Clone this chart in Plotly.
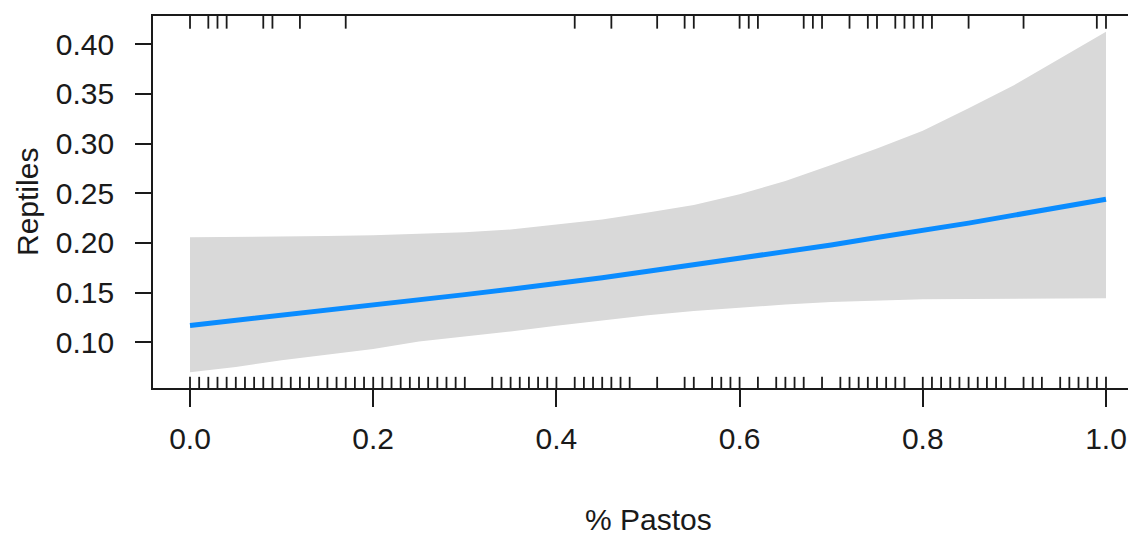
import plotly.graph_objects as go

# ---- data ----
x_grid = [0.00, 0.05, 0.10, 0.15, 0.20, 0.25, 0.30, 0.35, 0.40, 0.45, 0.50,
          0.55, 0.60, 0.65, 0.70, 0.75, 0.80, 0.85, 0.90, 0.95, 1.00]
fit = [0.117, 0.122, 0.127, 0.132, 0.137, 0.1425, 0.148, 0.1535, 0.159, 0.165, 0.1715,
       0.178, 0.1845, 0.191, 0.198, 0.2055, 0.2125, 0.220, 0.228, 0.236, 0.244]
upper = [0.2057, 0.2060, 0.2065, 0.2070, 0.2077, 0.2090, 0.2107, 0.2136, 0.2186, 0.2236, 0.2307,
         0.2382, 0.2490, 0.2624, 0.2785, 0.2951, 0.3130, 0.3356, 0.3591, 0.3863, 0.4127]
lower = [0.0698, 0.0751, 0.0820, 0.0877, 0.0933, 0.1008, 0.1058, 0.1109, 0.1166, 0.1219, 0.1272,
         0.1315, 0.1350, 0.1381, 0.1406, 0.1421, 0.1433, 0.1436, 0.1439, 0.1441, 0.1443]

rug_bottom = [0.00, 0.01, 0.02, 0.03, 0.04, 0.05, 0.06, 0.07, 0.08, 0.09, 0.10, 0.11, 0.12,
              0.13, 0.14, 0.15, 0.16, 0.17, 0.18, 0.19, 0.20, 0.21, 0.22, 0.23, 0.24, 0.25,
              0.26, 0.27, 0.28, 0.29, 0.30, 0.33, 0.34, 0.35, 0.36, 0.37, 0.38, 0.39, 0.40,
              0.42, 0.43, 0.44, 0.45, 0.46, 0.47, 0.48, 0.51, 0.54, 0.55, 0.57, 0.58, 0.59,
              0.60, 0.62, 0.64, 0.65, 0.66, 0.67, 0.69, 0.71, 0.72, 0.73, 0.74, 0.75, 0.76,
              0.77, 0.78, 0.80, 0.81, 0.82, 0.83, 0.84, 0.85, 0.86, 0.87, 0.88, 0.89, 0.91,
              0.92, 0.93, 0.95, 0.96, 0.97, 0.98, 0.99, 1.00]
rug_top = [0.00, 0.02, 0.03, 0.04, 0.08, 0.09, 0.12, 0.17, 0.42, 0.46, 0.51, 0.54, 0.55,
           0.60, 0.61, 0.62, 0.67, 0.68, 0.69, 0.72, 0.74, 0.75, 0.77, 0.78, 0.79, 0.80,
           0.81, 0.85, 0.91, 0.99, 1.00]

x_ticks = [0.0, 0.2, 0.4, 0.6, 0.8, 1.0]
x_tick_labels = ["0.0", "0.2", "0.4", "0.6", "0.8", "1.0"]
y_ticks = [0.10, 0.15, 0.20, 0.25, 0.30, 0.35, 0.40]
y_tick_labels = ["0.10", "0.15", "0.20", "0.25", "0.30", "0.35", "0.40"]

x_title = "% Pastos"
y_title = "Reptiles"

# ---- styling ----
FONT = "Liberation Sans, Arial, sans-serif"
TXT = "#1a1a1a"
FS = 30
AX = "#1a1a1a"

fig = go.Figure()

# confidence band
fig.add_trace(go.Scatter(x=x_grid, y=lower, mode="lines", line=dict(width=0, color="#D9D9D9"),
                         showlegend=False, hoverinfo="skip"))
fig.add_trace(go.Scatter(x=x_grid, y=upper, mode="lines", line=dict(width=0, color="#D9D9D9"),
                         fill="tonexty", fillcolor="#D9D9D9", showlegend=False, hoverinfo="skip"))
# fitted line
fig.add_trace(go.Scatter(x=x_grid, y=fit, mode="lines", line=dict(width=5, color="#0A8CFF"),
                         showlegend=False))


def rug_xy(vals, y0, y1):
    xs, ys = [], []
    for v in vals:
        xs += [v, v, None]
        ys += [y0, y1, None]
    return xs, ys


bx, by = rug_xy(rug_bottom, 0.0, 0.03)
tx, ty = rug_xy(rug_top, 1.0, 0.966)
fig.add_trace(go.Scatter(x=bx, y=by, yaxis="y2", mode="lines", line=dict(width=1.8, color=AX),
                         showlegend=False, hoverinfo="skip"))
fig.add_trace(go.Scatter(x=tx, y=ty, yaxis="y2", mode="lines", line=dict(width=1.8, color=AX),
                         showlegend=False, hoverinfo="skip"))

# the page body adds an 8px offset, so the figure is laid out 8px up/left
fig.update_layout(
    width=1136, height=536,
    margin=dict(l=145, r=0, t=8, b=156, autoexpand=False),
    paper_bgcolor="white", plot_bgcolor="white",
    font=dict(family=FONT, size=FS, color=TXT),
    xaxis=dict(range=[-0.0404, 1.0415], tickvals=x_ticks, ticktext=x_tick_labels,
               automargin=False,
               showgrid=False, zeroline=False, showline=True, linecolor=AX, linewidth=1.8,
               mirror=True, ticks="outside", ticklen=17, tickwidth=1.8, tickcolor=AX,
               ticklabelstandoff=6, tickfont=dict(size=FS, color=TXT, family=FONT)),
    yaxis=dict(range=[0.054, 0.4285], tickvals=y_ticks, ticktext=y_tick_labels,
               automargin=False,
               showgrid=False, zeroline=False, showline=True, linecolor=AX, linewidth=1.8,
               mirror=False, ticks="outside", ticklen=16, tickwidth=1.8, tickcolor=AX,
               ticklabelstandoff=15, tickfont=dict(size=FS, color=TXT, family=FONT)),
    yaxis2=dict(range=[0, 1], overlaying="y", visible=False, fixedrange=True),
    annotations=[
        dict(text=x_title, xref="paper", yref="paper", x=(648 - 153) / 991, y=-0.3548,
             xanchor="center", yanchor="middle", showarrow=False,
             font=dict(size=FS, color=TXT, family=FONT)),
        dict(text=y_title, xref="paper", yref="paper", x=(27 - 153) / 991, y=0.5,
             xanchor="center", yanchor="middle", showarrow=False, textangle=-90,
             font=dict(size=FS, color=TXT, family=FONT)),
    ],
)

fig.write_html("out.html")
